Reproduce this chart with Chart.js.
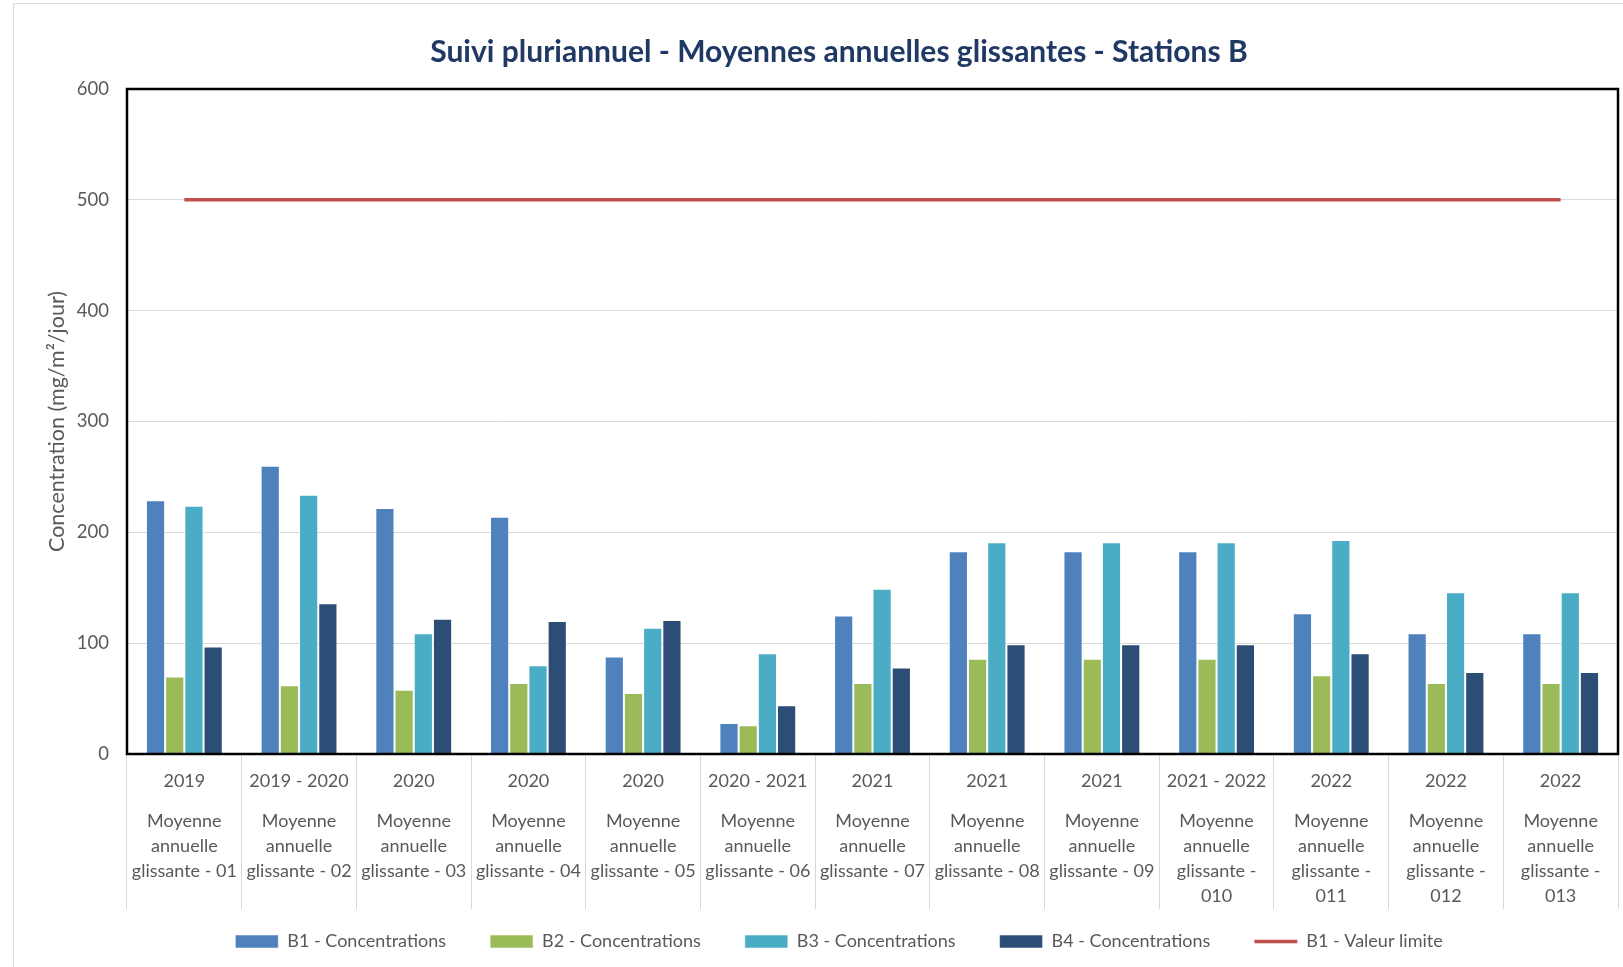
<!DOCTYPE html>
<html>
<head>
<meta charset="utf-8">
<script src="https://cdn.jsdelivr.net/npm/chart.js@4/dist/chart.umd.min.js"></script>
<style>
  html, body { margin:0; padding:0; background:#fff; overflow:hidden; }
  #outline { position:absolute; left:13px; top:3px; width:1700px; height:1000px; border:1px solid #d9d9d9; }
  #wrap { position:absolute; left:0; top:0; width:1623px; height:967px; }
</style>
</head>
<body>
<div id="outline"></div>
<div id="wrap"><canvas id="chart"></canvas></div>
<script>
/* data */
const years = ['2019', '2019 - 2020', '2020', '2020', '2020', '2020 - 2021', '2021',
               '2021', '2021', '2021 - 2022', '2022', '2022', '2022'];
const periods = [
  ['Moyenne', 'annuelle', 'glissante - 01'],
  ['Moyenne', 'annuelle', 'glissante - 02'],
  ['Moyenne', 'annuelle', 'glissante - 03'],
  ['Moyenne', 'annuelle', 'glissante - 04'],
  ['Moyenne', 'annuelle', 'glissante - 05'],
  ['Moyenne', 'annuelle', 'glissante - 06'],
  ['Moyenne', 'annuelle', 'glissante - 07'],
  ['Moyenne', 'annuelle', 'glissante - 08'],
  ['Moyenne', 'annuelle', 'glissante - 09'],
  ['Moyenne', 'annuelle', 'glissante -', '010'],
  ['Moyenne', 'annuelle', 'glissante -', '011'],
  ['Moyenne', 'annuelle', 'glissante -', '012'],
  ['Moyenne', 'annuelle', 'glissante -', '013']
];
const b1 = [229, 260, 222, 214, 88, 28, 125, 183, 183, 183, 127, 109, 109];
const b2 = [70, 62, 58, 64, 55, 26, 64, 86, 86, 86, 71, 64, 64];
const b3 = [224, 234, 109, 80, 114, 91, 149, 191, 191, 191, 193, 146, 146];
const b4 = [97, 136, 122, 120, 121, 44, 78, 99, 99, 99, 91, 74, 74];
const limite = [500, 500, 500, 500, 500, 500, 500, 500, 500, 500, 500, 500, 500];
const yTicks = [0, 100, 200, 300, 400, 500, 600];

const GREY = '#595959';
const FONT = 'Lato';

// black frame round the plot area
const framePlugin = {
  id: 'frame',
  afterDatasetsDraw(c) {
    const { ctx, chartArea: a } = c;
    ctx.save();
    ctx.strokeStyle = '#000';
    ctx.lineWidth = 2.5;
    ctx.strokeRect(a.left, a.top, a.right - a.left, a.bottom - a.top);
    ctx.restore();
  }
};

const barSet = (label, data, color) => ({
  label, data,
  backgroundColor: color,
  borderColor: 'rgba(255,255,255,0.55)',
  borderWidth: 1,
  pointStyle: 'rect'
});

new Chart(document.getElementById('chart'), {
  type: 'bar',
  data: {
    labels: years,
    datasets: [
      barSet('B1 - Concentrations', b1, '#4F81BD'),
      barSet('B2 - Concentrations', b2, '#9BBB59'),
      barSet('B3 - Concentrations', b3, '#4BACC6'),
      barSet('B4 - Concentrations', b4, '#2C4D75'),
      {
        type: 'line',
        label: 'B1 - Valeur limite',
        data: limite,
        borderColor: '#C0504D',
        backgroundColor: '#C0504D',
        borderWidth: 3.5,
        pointRadius: 0,
        pointStyle: 'line',
        fill: false
      }
    ]
  },
  options: {
    responsive: true,
    maintainAspectRatio: false,
    animation: false,
    layout: { padding: { left: 60, right: 5, top: 0, bottom: 6.5 } },
    datasets: { bar: { categoryPercentage: 0.67, barPercentage: 1 } },
    scales: {
      x: {
        offset: true,
        grid: { offset: true, drawOnChartArea: false, tickLength: 155, color: '#d9d9d9' },
        border: { display: false },
        ticks: { padding: -139, color: GREY, font: { family: FONT, size: 18 }, maxRotation: 0, autoSkip: false },
        afterFit(s) { s.height = 36; }
      },
      x2: {
        type: 'category',
        labels: periods,
        position: 'bottom',
        offset: true,
        grid: { display: false },
        border: { display: false },
        // mirrored so the long labels are not clipped to the axis box
        ticks: { mirror: true, padding: -43.7, color: GREY, font: { family: FONT, size: 18, lineHeight: 1.378 }, maxRotation: 0, autoSkip: false },
        afterFit(s) { s.height = 98.5; }
      },
      y: {
        min: 0, max: 600,
        afterBuildTicks(s) { s.ticks = yTicks.map(v => ({ value: v })); },
        grid: { color: '#d9d9d9', drawTicks: false },
        border: { display: false },
        ticks: { padding: 18, color: GREY, font: { family: FONT, size: 18.5 } },
        title: {
          display: true,
          text: 'Concentration (mg/m²/jour)',
          color: GREY,
          font: { family: FONT, size: 21.5 },
          padding: { top: -16, bottom: 0 }
        },
        afterFit(s) { s.width = 67; }
      }
    },
    plugins: {
      title: {
        display: true,
        text: 'Suivi pluriannuel - Moyennes annuelles glissantes - Stations B',
        color: '#1F3864',
        font: { family: FONT, size: 30, weight: 'bold' },
        padding: { top: 34, bottom: 19 }
      },
      legend: {
        position: 'bottom',
        labels: {
          usePointStyle: true,
          pointStyleWidth: 43,
          boxHeight: 13,
          padding: 44,
          color: GREY,
          font: { family: FONT, size: 18 }
        }
      },
      tooltip: { enabled: false }
    }
  },
  plugins: [framePlugin]
});
</script>
</body>
</html>
